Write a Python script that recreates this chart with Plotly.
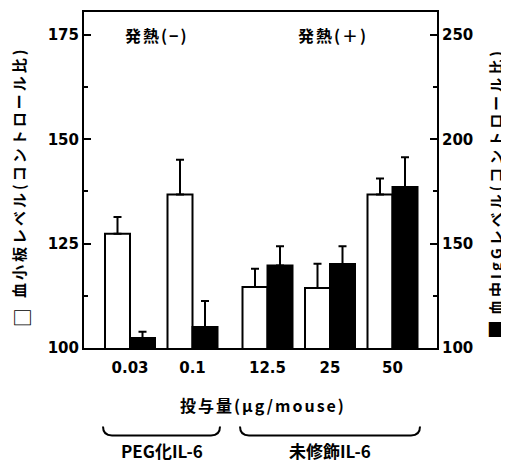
import plotly.graph_objects as go

# ---- data ----
dose_labels = ["0.03", "0.1", "12.5", "25", "50"]
dose_pos = [0, 1, 2.2, 3.2, 4.2]          # category positions along x
platelet = [127.4, 136.8, 114.6, 114.4, 136.8]
platelet_err = [4.0, 8.3, 4.4, 5.8, 3.8]
igg = [104.8, 110.1, 139.5, 140.3, 177.1]
igg_err = [3.0, 12.4, 9.2, 8.4, 14.3]
left_ticks = [100, 125, 150, 175]
right_ticks = [100, 150, 200, 250]

OFF = 8                      # page body margin of the html page
W, H = 509 - OFF, 466 - OFF
L, R, T, B = 84 - OFF, 437 - OFF, 10 - OFF, 348 - OFF   # plot box in figure px


def px(x):
    return (x - OFF - L) / (R - L)


def py(y):
    return (B - (y - OFF)) / (B - T)


JP = "Noto Sans CJK JP"
NUM = "DejaVu Sans"

fig = go.Figure()
fig.add_trace(go.Bar(
    x=dose_pos, y=platelet, offset=-0.4, width=0.4,
    marker=dict(color="white", line=dict(color="black", width=2)),
    error_y=dict(type="data", array=platelet_err, arrayminus=[0] * 5,
                 symmetric=False, color="black", thickness=2, width=4),
    yaxis="y", showlegend=False))
fig.add_trace(go.Bar(
    x=dose_pos, y=igg, offset=0, width=0.4,
    marker=dict(color="black", line=dict(color="black", width=2)),
    error_y=dict(type="data", array=igg_err, arrayminus=[0] * 5,
                 symmetric=False, color="black", thickness=2, width=4),
    yaxis="y2", showlegend=False))

numfont = dict(family=NUM, size=15, color="black", weight="bold")
fig.update_layout(
    width=W, height=H,
    margin=dict(l=L, r=W - R, t=T, b=H - B),
    paper_bgcolor="white", plot_bgcolor="white",
    barmode="overlay",
    xaxis=dict(range=[-0.736, 4.912], tickvals=dose_pos, ticktext=dose_labels,
               ticks="", showline=True, mirror=True, linecolor="black",
               linewidth=2, showgrid=False, zeroline=False,
               ticklabelstandoff=5, tickfont=numfont),
    yaxis=dict(range=[100, 180.5], tickvals=left_ticks, ticks="inside",
               ticklen=7, tickwidth=2, tickcolor="black",
               minor=dict(ticks="inside", ticklen=4, tickwidth=1.5,
                          tickcolor="black", tick0=100, dtick=12.5, showgrid=False),
               showline=True, linecolor="black", linewidth=2,
               showgrid=False, zeroline=False, tickfont=numfont),
    yaxis2=dict(range=[100, 261], tickvals=right_ticks, ticks="inside",
                ticklen=7, tickwidth=2, tickcolor="black",
                minor=dict(ticks="inside", ticklen=4, tickwidth=1.5,
                           tickcolor="black", tick0=100, dtick=25, showgrid=False),
                overlaying="y", side="right",
                showline=True, linecolor="black", linewidth=2,
                showgrid=False, zeroline=False, tickfont=numfont),
)

ann = [
    dict(text="□", x=px(21), y=py(318), textangle=-90, size=19),
    dict(text='<span style="letter-spacing:3px">血小板レベル(コントロール比)</span>',
         x=px(18), y=py(172), textangle=-90, size=15),
    dict(text="■", x=px(495), y=py(330), textangle=-90, size=19),
    dict(text='<span style="letter-spacing:3px">血中IgGレベル(コントロール比)</span>',
         x=px(496), y=py(181), textangle=-90, size=15),
    dict(text='<span style="letter-spacing:2px">発熱(−)</span>', x=px(157), y=py(33), textangle=0, size=16),
    dict(text='<span style="letter-spacing:2px">発熱(＋)</span>', x=px(333), y=py(33), textangle=0, size=16),
    dict(text='<span style="letter-spacing:2px">投与量(μg/mouse)</span>', x=px(263), y=py(405), textangle=0, size=16),
    dict(text="PEG化IL-6", x=px(162), y=py(451), textangle=0, size=17),
    dict(text="未修飾IL-6", x=px(330), y=py(451), textangle=0, size=17),
]
for a in ann:
    fig.add_annotation(text=a["text"], x=a["x"], y=a["y"], xref="paper", yref="paper",
                       showarrow=False, textangle=a["textangle"],
                       xanchor="center", yanchor="middle",
                       font=dict(family=JP, size=a["size"], color="black", weight="bold"))


def brace(x0, x1, ytop, ybot):
    r = 9
    return (f"M {px(x0)},{py(ytop)} Q {px(x0)},{py(ybot)} {px(x0 + r)},{py(ybot)} "
            f"L {px(x1 - r)},{py(ybot)} Q {px(x1)},{py(ybot)} {px(x1)},{py(ytop)}")


for x0, x1 in [(103, 220), (240, 420)]:
    fig.add_shape(type="path", path=brace(x0, x1, 427, 436), xref="paper", yref="paper",
                  line=dict(color="black", width=2))

fig.write_html("out.html")
